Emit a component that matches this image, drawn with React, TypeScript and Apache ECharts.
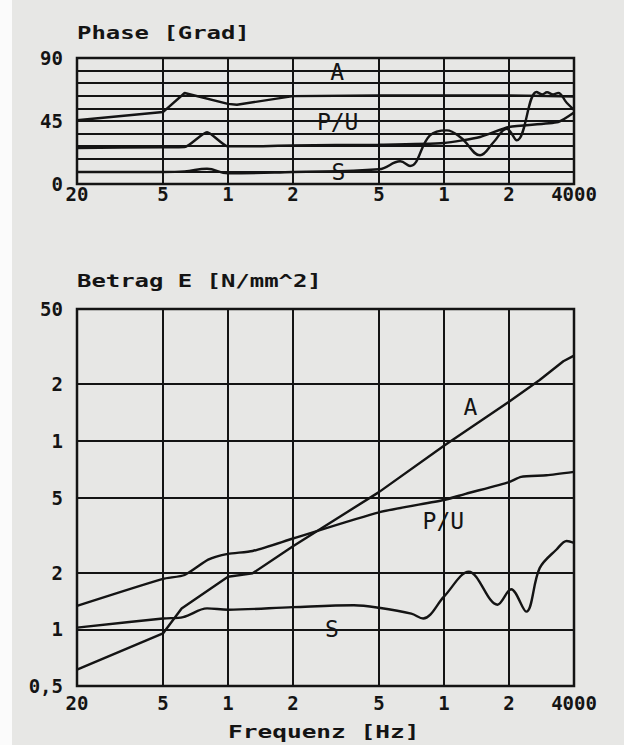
import React, { useEffect, useRef } from 'react';
import * as echarts from 'echarts';

// Frequency axis (Hz, log scale)
const freqTicks = [20, 50, 100, 200, 500, 1000, 2000, 4000];
const freqTickLabels = ['20', '5', '1', '2', '5', '1', '2', '4000'];
const freqGrid = [50, 100, 200, 500, 1000, 2000];

// Phase axis (degrees)
const phaseTickLabels: Record<number, string> = { 0: '0', 45: '45', 90: '90' };

// Magnitude axis (N/mm^2, log scale)
const magTicks = [0.5, 1, 2, 5, 10, 20, 50];
const magTickLabels = ['0,5', '1', '2', '5', '1', '2', '50'];
const magGrid = [1, 2, 5, 10, 20];

// Phase curves [Hz, degrees]
const phaseA = [[20, 45.5], [50, 51.4], [63, 65], [100, 57.2], [110, 56.6], [200, 62.8], [500, 63.2], [1000, 63.3], [2000, 63.3], [4000, 62.5]];
const phasePU = [[20, 25.7], [50, 26.2], [63, 26.4], [80, 37], [100, 26.9], [145, 27], [200, 27.6], [500, 28.1], [1000, 29.3], [1470, 33.6], [2000, 40.7], [3380, 44.3], [4000, 51]];
const phaseS = [[20, 8.6], [50, 8.6], [63, 9], [80, 10.9], [100, 7.6], [200, 8.6], [500, 10.5], [627, 16.2], [697, 12.9], [861, 34.7], [1030, 38.3], [1200, 33], [1469, 20.5], [1700, 30], [1950, 39.5], [2173, 31.2], [2686, 65.7], [2850, 64], [3000, 65.5], [3200, 64], [3380, 65], [3700, 58], [4000, 53]];

// Magnitude curves [Hz, N/mm^2]
const magA = [[20, 0.61], [50, 0.95], [61, 1.29], [100, 1.9], [130, 1.98], [200, 2.76], [500, 5.34], [1000, 9.4], [2000, 16.1], [2774, 21], [3570, 26.4], [4000, 28.3]];
const magPU = [[20, 1.33], [50, 1.85], [63, 1.94], [81, 2.34], [100, 2.51], [130, 2.6], [200, 3.03], [500, 4.17], [1000, 4.85], [1260, 5.23], [2000, 6.04], [2275, 6.43], [2985, 6.56], [4000, 6.84]];
const magS = [[20, 1.02], [50, 1.14], [62, 1.16], [80, 1.29], [100, 1.27], [200, 1.31], [383, 1.34], [500, 1.3], [706, 1.21], [801, 1.14], [1000, 1.49], [1303, 2.02], [1770, 1.35], [2046, 1.63], [2405, 1.24], [2774, 2.11], [3320, 2.65], [3700, 2.94], [4000, 2.87]];

// Curve name labels [Hz, value]
const phaseLabelPos = { A: [320, 80], PU: [322, 44], S: [325, 8.6] };
const magLabelPos = { A: [1327, 15.1], PU: [993, 3.76], S: [303, 1.0] };

const INK = '#141414';
const MONO = '"DejaVu Sans Mono", "Liberation Mono", monospace';

function nearestLabel(v: number, ticks: number[], labels: string[]) {
  let best = -1;
  let bd = Infinity;
  ticks.forEach((t, i) => {
    const d = Math.abs(Math.log10(v) - Math.log10(t));
    if (d < bd) { bd = d; best = i; }
  });
  return bd < 0.01 ? labels[best] : '';
}

const axisLabelStyle = {
  color: INK,
  fontFamily: MONO,
  fontWeight: 'bold' as const,
  fontSize: 19,
};

function curve(name: string, data: number[][], gi: number, smooth: number, extra: any = {}) {
  return {
    type: 'line',
    name,
    xAxisIndex: gi,
    yAxisIndex: gi,
    data,
    smooth,
    symbol: 'none',
    silent: true,
    lineStyle: { color: INK, width: 2.4 },
    z: 5,
    ...extra,
  };
}

function nameMark(text: string, coord: number[]) {
  return {
    coord,
    symbol: 'circle',
    symbolSize: 0,
    label: {
      show: true,
      position: 'inside',
      formatter: text,
      color: INK,
      fontFamily: MONO,
      fontSize: 23,
    },
  };
}

function markLines(data: any[]) {
  return {
    silent: true,
    symbol: ['none', 'none'],
    label: { show: false },
    lineStyle: { color: INK, width: 2, type: 'solid' },
    emphasis: { disabled: true },
    data,
  };
}

export default function App() {
  const ref = useRef<HTMLDivElement>(null);

  useEffect(() => {
    document.body.style.margin = '0';
    const chart = echarts.init(ref.current!, null, { renderer: 'svg' });

    const option: any = {
      animation: false,
      backgroundColor: '#e7e7e5',
      grid: [
        { left: 77, top: 58, width: 497, height: 126, show: true, borderColor: INK, borderWidth: 2.5, backgroundColor: 'transparent' },
        { left: 77, top: 309, width: 497, height: 377, show: true, borderColor: INK, borderWidth: 2.5, backgroundColor: 'transparent' },
      ],
      xAxis: [0, 1].map((gi) => ({
        type: 'log',
        logBase: 10,
        gridIndex: gi,
        min: 20,
        max: 4000,
        axisLine: { show: false },
        axisTick: { show: false },
        splitLine: { show: false },
        axisLabel: {
          ...axisLabelStyle,
          customValues: freqTicks,
          margin: gi === 0 ? 0 : 7,
          showMinLabel: true,
          showMaxLabel: true,
          hideOverlap: false,
          formatter: (v: number) => nearestLabel(v, freqTicks, freqTickLabels),
        },
      })),
      yAxis: [
        {
          type: 'value',
          gridIndex: 0,
          min: 0,
          max: 90,
          interval: 9,
          axisLine: { show: false },
          axisTick: { show: false },
          splitLine: { show: true, lineStyle: { color: INK, width: 2 } },
          axisLabel: {
            ...axisLabelStyle,
            margin: 14,
            formatter: (v: number) => phaseTickLabels[Math.round(v)] ?? '',
          },
        },
        {
          type: 'log',
          logBase: 10,
          gridIndex: 1,
          min: 0.5,
          max: 50,
          axisLine: { show: false },
          axisTick: { show: false },
          splitLine: { show: false },
          axisLabel: {
            ...axisLabelStyle,
            customValues: magTicks,
            margin: 14,
            showMinLabel: true,
            showMaxLabel: true,
            hideOverlap: false,
            formatter: (v: number) => nearestLabel(v, magTicks, magTickLabels),
          },
        },
      ],
      graphic: [
        { type: 'rect', left: 0, top: 0, shape: { width: 12, height: 745 }, style: { fill: '#fbfbfb' }, z: -1 },
        {
          type: 'text', x: 77, y: 24, scaleX: 1.33,
          style: { text: 'Phase [Grad]', font: `bold 18px ${MONO}`, fill: INK },
        },
        {
          type: 'text', x: 77, y: 272, scaleX: 1.33,
          style: { text: 'Betrag E [N/mm^2]', font: `bold 18px ${MONO}`, fill: INK },
        },
        {
          type: 'text', x: 228, y: 723, scaleX: 1.36,
          style: { text: 'Frequenz [Hz]', font: `bold 18px ${MONO}`, fill: INK },
        },
      ],
      series: [
        curve('A', phaseA, 0, 0, {
          markLine: markLines(freqGrid.map((f) => ({ xAxis: f }))),
          markPoint: { silent: true, data: [nameMark('A', phaseLabelPos.A), nameMark('P/U', phaseLabelPos.PU), nameMark('S', phaseLabelPos.S)] },
        }),
        curve('P/U', phasePU, 0, 0.2),
        curve('S', phaseS, 0, 0.4),
        curve('A', magA, 1, 0, {
          markLine: markLines([
            ...freqGrid.map((f) => ({ xAxis: f })),
            ...magGrid.map((m) => ({ yAxis: m })),
          ]),
          markPoint: { silent: true, data: [nameMark('A', magLabelPos.A), nameMark('P/U', magLabelPos.PU), nameMark('S', magLabelPos.S)] },
        }),
        curve('P/U', magPU, 1, 0.2),
        curve('S', magS, 1, 0.35),
      ],
    };

    chart.setOption(option);
    return () => chart.dispose();
  }, []);

  return <div ref={ref} style={{ width: 624, height: 745, position: 'absolute', left: 0, top: 0 }} />;
}
